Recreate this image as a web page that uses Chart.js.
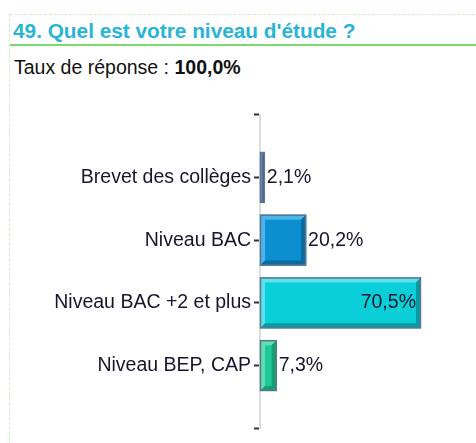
<!DOCTYPE html>
<html lang="fr">
<head>
    <meta charset="UTF-8">
    <title>Niveau d'étude</title>
    <script src="https://cdn.jsdelivr.net/npm/chart.js"></script>
    <style>
        body { margin: 0; background: #fff; font-family: "Liberation Sans", Arial, sans-serif; }
        #page { position: relative; width: 476px; height: 443px; overflow: hidden; }
        #frame { position: absolute; left: 9px; top: 14px; width: 480px; height: 440px;
                 border-left: 1px dashed #c9ecc3; border-top: 1px dashed #c9ecc3; }
        #title { position: absolute; left: 13px; top: 19px; font-size: 20.8px; font-weight: bold;
                 color: #27b4d6; white-space: nowrap; }
        #rule { position: absolute; left: 10px; top: 44px; width: 470px; height: 2px; background: #7ed96b; }
        #rate { position: absolute; left: 14px; top: 56px; font-size: 19.5px; color: #111; white-space: nowrap; }
        #rate b { color: #111; }
        #chartBox { position: absolute; left: 0; top: 100px; width: 476px; height: 343px; }
    </style>
</head>
<body>
<div id="page">
    <div id="frame"></div>
    <div id="title">49. Quel est votre niveau d'étude ?</div>
    <div id="rule"></div>
    <div id="rate">Taux de réponse : <b>100,0%</b></div>
    <div id="chartBox"><canvas id="levelChart"></canvas></div>
</div>

<script>
    // categories (empty slots at both ends give the top/bottom tick marks)
    const categories = ['', 'Brevet des collèges', 'Niveau BAC', 'Niveau BAC +2 et plus', 'Niveau BEP, CAP', ''];
    const percents = [null, 2.1, 20.2, 70.5, 7.3, null];

    const fillColors  = ['#000', '#52729b', '#0b8fd0', '#0bcfd8', '#1fc995', '#000'];
    const lightColors = ['#000', '#7f9cc0', '#4bb6ea', '#5ce2ea', '#5ee0b4', '#000'];
    const darkColors  = ['#000', '#3b5878', '#0a6b9c', '#089aa2', '#14a06f', '#000'];

    const fmt = v => v.toFixed(1).replace('.', ',') + '%';

    // draws the raised-bevel look and the value labels
    const bevelPlugin = {
        id: 'bevel',
        afterDatasetsDraw(chart) {
            const ctx = chart.ctx;
            const meta = chart.getDatasetMeta(0);
            meta.data.forEach((bar, i) => {
                if (percents[i] == null) return;
                const p = bar.getProps(['x', 'y', 'base', 'height'], true);
                const l = p.base, r = p.x, t = p.y - p.height / 2, b = p.y + p.height / 2;
                const w = r - l;
                const bv = Math.min(5, w / 3);
                ctx.save();
                // top + left light
                ctx.fillStyle = lightColors[i];
                ctx.beginPath();
                ctx.moveTo(l, t); ctx.lineTo(r, t); ctx.lineTo(r - bv, t + bv);
                ctx.lineTo(l + bv, t + bv); ctx.lineTo(l + bv, b - bv); ctx.lineTo(l, b);
                ctx.closePath(); ctx.fill();
                // bottom + right dark
                ctx.fillStyle = darkColors[i];
                ctx.beginPath();
                ctx.moveTo(r, t); ctx.lineTo(r, b); ctx.lineTo(l, b);
                ctx.lineTo(l + bv, b - bv); ctx.lineTo(r - bv, b - bv); ctx.lineTo(r - bv, t + bv);
                ctx.closePath(); ctx.fill();
                // outline
                ctx.strokeStyle = '#5c7591';
                ctx.lineWidth = 1.5;
                ctx.strokeRect(l + 0.5, t + 0.5, w - 1, b - t - 1);

                // value label
                ctx.font = '19.5px "Liberation Sans", Arial, sans-serif';
                ctx.fillStyle = '#15152e';
                ctx.textBaseline = 'middle';
                if (w > 100) {
                    ctx.textAlign = 'right';
                    ctx.fillText(fmt(percents[i]), r - 5, p.y);
                } else {
                    ctx.textAlign = 'left';
                    ctx.fillText(fmt(percents[i]), r + 2, p.y);
                }
                ctx.restore();
            });
        }
    };

    new Chart(document.getElementById('levelChart').getContext('2d'), {
        type: 'bar',
        data: {
            labels: categories,
            datasets: [{
                data: percents,
                backgroundColor: fillColors,
                borderWidth: 0,
                barPercentage: 0.81,
                categoryPercentage: 1
            }]
        },
        options: {
            indexAxis: 'y',
            responsive: true,
            maintainAspectRatio: false,
            animation: false,
            layout: { padding: { top: 14, bottom: 14, left: 0, right: 0 } },
            plugins: { legend: { display: false }, tooltip: { enabled: false } },
            scales: {
                x: { display: false, min: 0, max: 94.6 },
                y: {
                    offset: false,
                    afterFit(scale) { scale.width = 260; },
                    border: { color: '#dcdcdc', width: 2 },
                    grid: { offset: false, drawOnChartArea: false, tickLength: 6, tickColor: '#333', tickWidth: 2 },
                    ticks: {
                        padding: 3,
                        color: '#15152e',
                        font: { family: '"Liberation Sans", Arial, sans-serif', size: 19.5 }
                    }
                }
            }
        },
        plugins: [bevelPlugin]
    });
</script>
</body>
</html>
